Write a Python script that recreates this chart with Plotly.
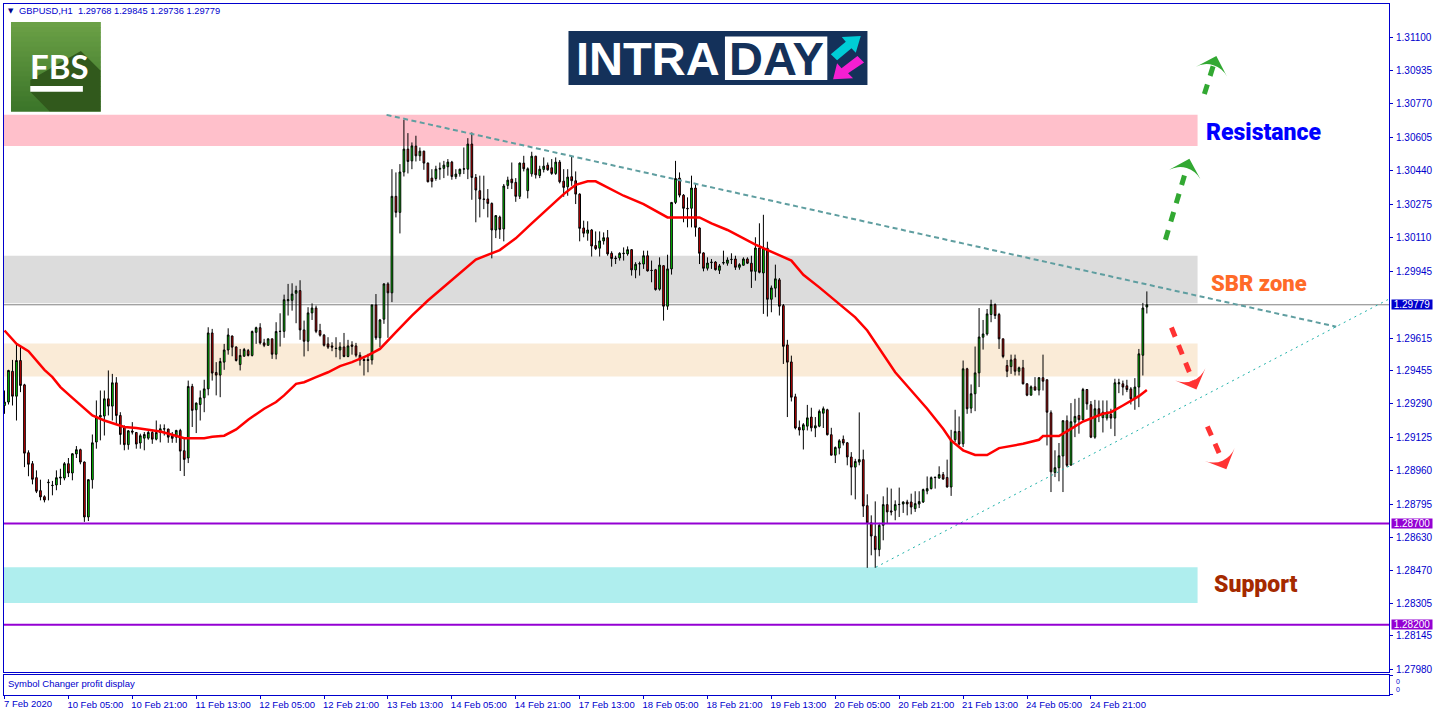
import plotly.graph_objects as go

BASE = 1.28
opens_pts = [
1282,1299,1451,1328,1504,1384,1049,995,926,862,
832,901,887,890,924,924,995,949,1043,1064,
1003,732,916,1102,1225,1230,1315,1279,1394,1233,
1176,1089,1156,1149,1097,1121,1121,1149,1116,1149,
1166,1166,1133,1126,1159,1059,1023,1376,1261,1287,
1320,1364,1640,1445,1432,1496,1556,1625,1571,1484,
1525,1553,1529,1643,1666,1591,1579,1611,1535,1647,
1648,1799,1801,1836,1849,1655,1599,1739,1763,1652,
1629,1586,1576,1565,1556,1571,1524,1581,1576,1530,
1509,1509,1507,1778,1616,1708,1882,1838,2314,2235,
2434,2547,2489,2562,2514,2537,2478,2404,2402,2448,
2452,2460,2483,2411,2425,2448,2448,2572,2407,2342,
2301,2301,2279,2148,2212,2153,2368,2399,2383,2314,
2478,2342,2425,2512,2417,2447,2468,2455,2427,2483,
2389,2361,2411,2391,2325,2158,2132,2148,2071,2058,
2094,2110,2033,2010,2010,2031,2030,2051,1951,1980,
1980,2021,1949,1952,1856,1972,1772,1956,2284,2404,
2320,2255,2255,2355,2158,2035,1959,1987,1990,1949,
1985,1984,2002,2005,1964,1974,2005,1984,1944,2059,
1936,2058,1806,1861,1902,1775,1581,1497,1325,1174,
1161,1180,1225,1171,1180,1244,1261,1138,1037,1072,
1115,1098,1028,978,1003,1015,788,703,637,571,
691,793,762,765,793,796,806,806,773,796,
806,860,872,926,924,941,927,880,1113,1154,
1093,1463,1269,1340,1443,1619,1635,1731,1780,1731,
1611,1479,1474,1512,1451,1468,1389,1333,1374,1358,
1419,1409,1246,952,975,1033,1207,988,1200,1233,
1212,1361,1286,1126,1266,1222,1220,1238,1220,1389,
1389,1379,1364,1318,1373,1530,1768]
highs_pts = [
1356,1458,1507,1586,1570,1389,1061,1008,962,916,
839,918,910,962,970,1003,1023,1047,1082,1069,
1006,919,1139,1307,1356,1356,1455,1438,1422,1249,
1184,1161,1200,1151,1143,1151,1156,1162,1208,1189,
1189,1167,1151,1162,1167,1126,1405,1389,1297,1356,
1409,1668,1660,1496,1517,1586,1663,1627,1573,1561,
1566,1561,1652,1671,1688,1611,1612,1612,1693,1737,
1829,1882,1885,1873,1900,1701,1767,1786,1775,1685,
1635,1619,1594,1619,1594,1640,1606,1599,1591,1545,
1524,1537,1780,1832,1709,1885,1890,2448,2432,2473,
2691,2626,2580,2613,2555,2539,2481,2448,2465,2481,
2489,2498,2489,2448,2450,2555,2601,2629,2424,2416,
2416,2350,2284,2220,2219,2375,2411,2481,2404,2481,
2514,2457,2534,2514,2465,2506,2481,2498,2506,2493,
2448,2448,2509,2437,2329,2194,2191,2153,2141,2141,
2136,2148,2043,2021,2038,2062,2067,2054,1989,1992,
2046,2046,1997,1956,2013,1974,2026,2286,2489,2432,
2325,2309,2416,2375,2161,2038,2013,2005,1994,1980,
2046,2013,2033,2021,1984,2013,2013,2021,2112,2181,
2223,2090,1874,1977,1911,1783,1606,1528,1340,1208,
1195,1285,1271,1225,1262,1277,1266,1172,1080,1116,
1134,1102,1052,1019,1248,1064,844,740,809,703,
834,877,872,814,877,809,817,847,859,859,
872,932,932,929,982,954,1015,1162,1261,1228,
1504,1468,1386,1573,1763,1704,1758,1804,1786,1739,
1612,1507,1533,1533,1474,1507,1392,1381,1422,1422,
1533,1410,1258,1061,1097,1208,1233,1294,1315,1320,
1369,1363,1304,1310,1307,1307,1307,1266,1414,1414,
1405,1409,1373,1417,1561,1788,1845]
lows_pts = [
1241,1287,1282,1208,1348,978,933,893,850,814,
804,814,839,864,890,913,929,913,1023,992,
708,712,872,1069,1110,1134,1233,1208,1192,1089,
1061,1064,1139,1069,1069,1061,1113,1093,1110,1100,
1134,1098,1098,1098,959,934,998,1176,1146,1208,
1249,1332,1405,1332,1323,1458,1533,1525,1499,1455,
1524,1524,1524,1586,1583,1570,1578,1512,1510,1573,
1616,1726,1750,1688,1606,1524,1550,1704,1639,1622,
1573,1561,1550,1520,1510,1520,1520,1533,1520,1479,
1430,1446,1484,1606,1570,1685,1616,1792,2210,2131,
2412,2427,2448,2486,2489,2445,2383,2358,2391,2396,
2404,2416,2396,2399,2411,2424,2399,2297,2186,2210,
2251,2210,2008,2108,2104,2092,2350,2350,2287,2301,
2437,2304,2411,2402,2404,2432,2440,2420,2420,2378,
2312,2317,2366,2276,2092,2112,2095,2017,2049,2017,
2076,2021,1967,1980,1997,1997,2021,1923,1910,1923,
1956,1943,1890,1849,1849,1701,1754,1928,2276,2309,
2186,2161,2161,2115,1980,1944,1948,1956,1948,1931,
1977,1972,1980,1951,1952,1972,1980,1862,1898,1934,
1734,1721,1742,1816,1726,1487,1225,1302,1164,1134,
1065,1159,1154,1126,1175,1171,1134,1036,998,1041,
1085,987,839,819,987,732,481,543,481,538,
617,699,740,716,732,752,740,745,757,776,
801,844,868,872,921,916,877,836,1102,1085,
1077,1241,1244,1254,1373,1558,1627,1693,1709,1561,
1515,1422,1438,1430,1430,1386,1328,1332,1356,1332,
1356,1085,855,929,908,855,978,985,1126,1143,
1208,1261,1121,1118,1200,1149,1208,1167,1131,1343,
1332,1348,1287,1261,1274,1430,1736]
closes_pts = [
1299,1455,1328,1504,1381,1047,992,918,859,831,
816,903,888,926,928,995,949,1044,1064,1003,
732,916,1098,1225,1233,1315,1279,1394,1233,1139,
1089,1157,1151,1092,1133,1139,1149,1116,1149,1167,
1167,1126,1120,1159,1057,1016,1376,1258,1294,1320,
1364,1640,1442,1432,1499,1556,1630,1570,1504,1529,
1558,1529,1647,1666,1591,1579,1611,1535,1647,1648,
1804,1804,1832,1849,1655,1599,1739,1763,1648,1629,
1579,1570,1570,1563,1571,1524,1576,1574,1530,1507,
1504,1504,1778,1616,1704,1882,1838,2314,2235,2434,
2547,2486,2563,2514,2537,2478,2386,2388,2448,2452,
2468,2483,2412,2424,2448,2450,2572,2407,2345,2301,
2299,2279,2148,2219,2151,2365,2394,2381,2314,2478,
2450,2450,2512,2420,2448,2463,2445,2427,2483,2386,
2358,2409,2391,2325,2156,2132,2148,2069,2056,2094,
2110,2030,2007,2007,2033,2033,2051,1951,1979,1982,
2021,1946,1948,1854,1975,1772,1956,2284,2402,2320,
2255,2253,2355,2161,2033,1959,1985,1989,1952,1971,
1987,2000,2003,1964,1977,2005,1984,1944,2059,1939,
2058,1806,1862,1907,1772,1574,1496,1323,1171,1161,
1187,1221,1172,1182,1253,1266,1138,1037,1075,1108,
1097,1028,978,1006,1015,786,703,638,571,691,
793,757,757,793,794,806,796,781,798,808,
867,872,926,928,941,919,880,1113,1154,1092,
1463,1266,1340,1443,1620,1635,1734,1780,1726,1611,
1524,1451,1507,1451,1468,1389,1333,1374,1358,1419,
1402,1249,955,975,1034,1207,987,1202,1228,1212,
1361,1290,1126,1266,1233,1249,1249,1220,1394,1394,
1373,1361,1315,1373,1537,1763,1779]

ma_bars = [0,3,6,8,10,12,14,17,20,22,25,28,30,33,36,39,42,45,50,52,55,58,61,65,68,70,73,75,78,81,84,87,91,94,98,
           102,106,112,118,124,128,132,136,140,143,146,148,151,155,160,166,174,177,181,188,197,200,204,209,213,216,220,223,227,231,
           235,237,240,243,246,249,255,259,260,264,267,270,275,277,280,284,286]
ma_pts = [1652,1586,1550,1504,1458,1422,1373,1320,1266,1233,1208,1189,1176,1171,1164,1154,1138,1121,1121,1128,1133,1164,1212,1266,1299,1332,1389,1397,1422,1446,1476,1496,1529,1561,1644,
          1726,1800,1903,2002,2049,2107,2181,2255,2325,2371,2388,2388,2358,2317,2276,2210,2210,2181,2148,2076,1997,1927,1865,1783,1717,1652,1537,1446,1356,1266,
          1167,1110,1061,1038,1038,1072,1093,1113,1131,1131,1167,1203,1241,1249,1282,1328,1359]

tick_bars = list(range(0, 288, 16))
tick_labels = ["7 Feb 2020","10 Feb 05:00","10 Feb 21:00","11 Feb 13:00","12 Feb 05:00","12 Feb 21:00",
               "13 Feb 13:00","14 Feb 05:00","14 Feb 21:00","17 Feb 13:00","18 Feb 05:00","18 Feb 21:00",
               "19 Feb 13:00","20 Feb 05:00","20 Feb 21:00","21 Feb 13:00","24 Feb 05:00","24 Feb 21:00"]
price_ticks = [1.31100,1.30935,1.30770,1.30605,1.30440,1.30275,1.30110,1.29945,1.29615,1.29455,
               1.29290,1.29125,1.28960,1.28795,1.28630,1.28470,1.28305,1.28145,1.27980]
last_price = 1.29779
levels = [1.28700, 1.28200]
zones = [(2716,2563,"#ffc0cb"),(2021,1787,"#dcdcdc"),(1588,1425,"#faebd7"),(484,308,"#afeeee")]
ZONE_END = 298.7
res_x, res_pts = [95.65, 333.4], [2716, 1671]
sup_x, sup_pts = [218.15, 346.5], [484, 1806]
up_arrows = [([290.65, 296.65],[2100,2499]), ([300.4,303.4],[2819,3006])]
down_arrows = [([292.15,298.4],[1667,1361]), ([301.15,305.9],[1179,967])]

BLUE = "#0000cd"; PURPLE = "#9400d3"
F = "Liberation Sans"
P = lambda v: [BASE + a/1e5 for a in v]
bars = list(range(len(closes_pts)))
XR = [-0.125, 346.625]

W, H = 1436, 716
L, R, T, B = 3, 46, 3, 21
PW, PH = W-L-R, H-T-B
px = lambda x: (x-L)/PW
py = lambda y: (H-B-y)/PH
def rect(x0,y0,x1,y1,color,layer="above",**k):
    return dict(type="rect",xref="paper",yref="paper",x0=px(x0),x1=px(x1),y0=py(y0),y1=py(y1),
                fillcolor=color,line=dict(width=0),layer=layer,**k)
def poly(pts,color):
    d = "M "+" L ".join(f"{px(a):.5f},{py(b):.5f}" for a,b in pts)+" Z"
    return dict(type="path",xref="paper",yref="paper",path=d,fillcolor=color,line=dict(width=0),layer="above")

fig = go.Figure()
fig.add_trace(go.Candlestick(x=bars,open=P(opens_pts),high=P(highs_pts),low=P(lows_pts),close=P(closes_pts),
    increasing=dict(fillcolor="#00e600",line=dict(color="#000000",width=1)),
    decreasing=dict(fillcolor="#e60000",line=dict(color="#000000",width=1)),
    whiskerwidth=0,showlegend=False,hoverinfo="skip"))
fig.add_trace(go.Scatter(x=ma_bars,y=P(ma_pts),mode="lines",line=dict(color="#ff0000",width=2.5),showlegend=False,hoverinfo="skip"))
fig.add_trace(go.Scatter(x=res_x,y=P(res_pts),mode="lines",line=dict(color="#5f9ea0",width=2,dash="5px,3.5px"),showlegend=False,hoverinfo="skip"))
fig.add_trace(go.Scatter(x=sup_x,y=P(sup_pts),mode="lines",line=dict(color="#20b2aa",width=1,dash="2px,4px"),showlegend=False,hoverinfo="skip"))
for arrows,col in ((up_arrows,"#32a832"),(down_arrows,"#ff3333")):
    for ax,ay in arrows:
        fig.add_trace(go.Scatter(x=ax,y=P(ay),mode="lines+markers",
            line=dict(color=col,width=5,dash="10px,9px"),
            marker=dict(symbol="arrow-wide",size=[0,23],opacity=1,color=col,angleref="previous",line=dict(width=0)),
            showlegend=False,hoverinfo="skip"))
fig.add_trace(go.Scatter(x=[0],y=[0],xaxis="x2",yaxis="y2",mode="markers",marker=dict(opacity=0),showlegend=False,hoverinfo="skip"))

shapes = []
for top,bot,col in zones:
    shapes.append(dict(type="rect",xref="x",yref="y",x0=XR[0],x1=ZONE_END,y0=BASE+bot/1e5,y1=BASE+top/1e5,
                       fillcolor=col,line=dict(width=0),layer="below"))
shapes.append(dict(type="line",xref="paper",yref="y",x0=0,x1=1,y0=last_price,y1=last_price,
                   line=dict(color="#808080",width=1),layer="below"))
for lv in levels:
    shapes.append(dict(type="line",xref="paper",yref="y",x0=0,x1=1,y0=lv,y1=lv,
                       line=dict(color=PURPLE,width=2),layer="above"))
# FBS badge
steps = 18
for s in range(steps):
    t = s/(steps-1)
    c = f"rgb({int(107-47*t)},{int(160-42*t)},{int(70-28*t)})"
    shapes.append(rect(10,21+s*89.5/steps,100,21+(s+1)*89.5/steps+0.5,c))
shapes.append(poly([(80,50),(99.5,69.5),(99.5,110.5),(48.5,110.5),(29.3,91),(29.3,79)],"#31591c"))
shapes.append(rect(29.3,85,82,91,"#ffffff"))
# INTRADAY banner
NAVY = "#14315a"
shapes.append(rect(568.3,30,867.7,84,NAVY))
shapes.append(rect(725,35.5,827.5,79,"#ffffff"))
shapes.append(poly([(861,35),(842,36),(846,40.7),(831,53.3),(837.3,59.3),(851.7,47.3),(856,51.7)],"#00cdd6"))
shapes.append(poly([(833.3,78.3),(853.3,77.3),(848.3,72.3),(864.3,61.7),(857.7,55),(841.7,67.3),(837.3,62.3)],"#f51fd2"))

ann = []
def A(x,y,t,size,col,font=F,bold=False,anchor="left",weight=None,**k):
    fd = dict(family=font,size=size,color=col)
    if weight: fd["weight"] = weight
    ann.append(dict(xref="paper",yref="paper",x=px(x),y=py(y),text=(f"<b>{t}</b>" if bold else t),showarrow=False,
                    xanchor=anchor,yanchor="middle",align=anchor,font=fd,**k))
ohlc = " ".join(f"{BASE+v[-1]/1e5:.5f}" for v in (opens_pts,highs_pts,lows_pts,closes_pts))
A(5,10,"▼",7,"#00008b",font="DejaVu Sans")
A(16,10,f"GBPUSD,H1  {ohlc}".replace("  ","&nbsp;&nbsp;"),9.3,BLUE)
A(5,683.5,"Symbol Changer profit display",9.5,BLUE)
A(1,704,tick_labels[0],9.5,BLUE)
A(1205,132,"Resistance",23,"#0000ff",font="Roboto",weight=900)
A(1210,283,"SBR zone",22,"#ff6a28",font="Roboto",weight=900)
A(1213,584,"Support",23,"#a52a00",font="Roboto",weight=900)
A(27,65,"FBS",33,"#ffffff",font="Lato",bold=True)
A(574,57.5,"INTRA",47,"#ffffff",bold=True)
A(727,57.5,"DAY",47,NAVY,bold=True)
A(1395,681,"0",7,BLUE)
A(1395,689.5,"0",7,BLUE)
for val,col in [(last_price,BLUE)]+[(v,PURPLE) for v in levels]:
    ann.append(dict(xref="paper",yref="y",x=px(1392.3),y=val,text=f"{val:.5f}",showarrow=False,xanchor="left",yanchor="middle",
                    width=40,height=9,bgcolor=col,borderpad=0,font=dict(family=F,size=10,color="#ffffff")))

fig.update_layout(
    width=W,height=H,margin=dict(l=L,r=R,t=T,b=B,pad=0),paper_bgcolor="#ffffff",plot_bgcolor="#ffffff",
    showlegend=False,boxgap=0.4,shapes=shapes,annotations=ann,
    xaxis=dict(domain=[0,1],range=XR,anchor="y",rangeslider=dict(visible=False),showgrid=False,zeroline=False,
               showticklabels=False,ticks="",showline=True,mirror=True,linecolor=BLUE,linewidth=1),
    xaxis2=dict(domain=[0,1],range=XR,anchor="y2",matches="x",showgrid=False,zeroline=False,showline=True,mirror=True,
                linecolor=BLUE,linewidth=1,tickmode="array",tickvals=tick_bars,ticktext=[""]+tick_labels[1:],ticks="outside",
                ticklen=3,tickcolor=BLUE,ticklabelshift=27,ticklabelstandoff=-2,tickangle=0,tickfont=dict(family=F,size=9.5,color=BLUE)),
    yaxis=dict(domain=[23/PH,1],range=[1.27967,1.31263],anchor="x",side="right",showgrid=False,zeroline=False,
               showline=True,mirror=True,linecolor=BLUE,linewidth=1,tickmode="array",tickvals=price_ticks,
               ticktext=[f"{v:.5f}" for v in price_ticks],ticks="outside",ticklen=3,tickcolor=BLUE,ticklabelstandoff=1,
               tickfont=dict(family=F,size=10,color=BLUE)),
    yaxis2=dict(domain=[0,20.5/PH],range=[0,1],anchor="x2",side="right",showgrid=False,zeroline=False,showline=True,mirror=True,
                linecolor=BLUE,linewidth=1,tickmode="array",tickvals=[0.03,0.97],ticktext=["",""],ticks="outside",ticklen=3,tickcolor=BLUE),
)
fig.write_html("out.html",config=dict(displayModeBar=False),
               post_script="document.body.style.margin='0';document.documentElement.style.overflow='hidden';")
